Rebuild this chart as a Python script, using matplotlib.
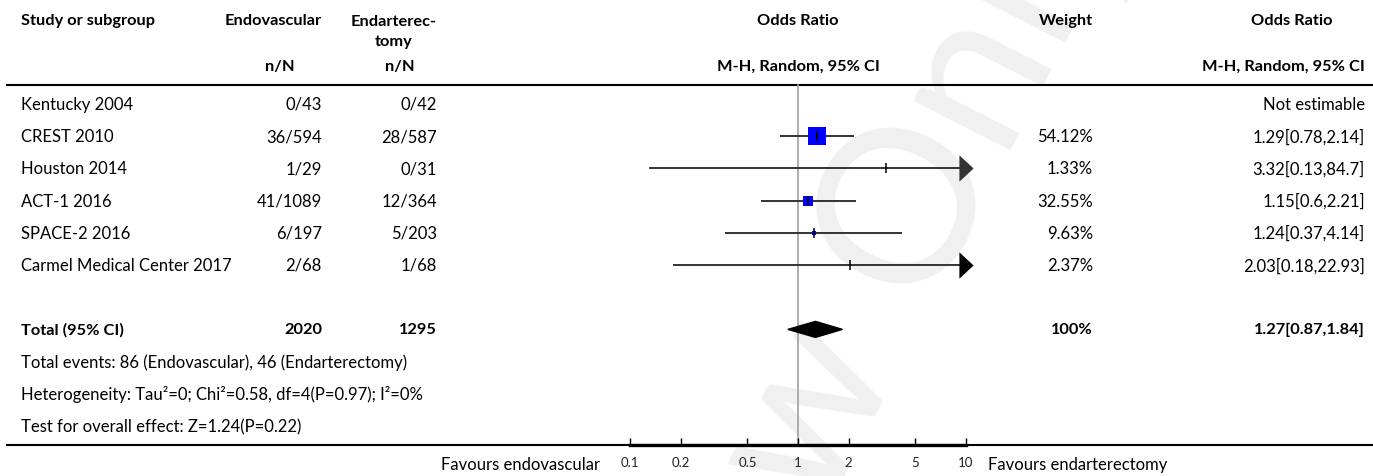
import numpy as np
import matplotlib
matplotlib.use("Agg")
from matplotlib import pyplot as plt

plt.rcParams['font.family'] = ['Lato', 'DejaVu Sans']

# data
studies = ["Kentucky 2004", "CREST 2010", "Houston 2014", "ACT-1 2016",
           "SPACE-2 2016", "Carmel Medical Center 2017"]
endo_n = [0, 36, 1, 41, 6, 2]
endo_N = [43, 594, 29, 1089, 197, 68]
endc_n = [0, 28, 0, 12, 5, 1]
endc_N = [42, 587, 31, 364, 203, 68]
weights = [np.nan, 54.12, 1.33, 32.55, 9.63, 2.37]
or_est = [np.nan, 1.29, 3.32, 1.15, 1.24, 2.03]
ci_lo = [np.nan, 0.78, 0.13, 0.6, 0.37, 0.18]
ci_hi = [np.nan, 2.14, 84.7, 2.21, 4.14, 22.93]

total_endo = 2020
total_endc = 1295
total_weight = 100
total_or = 1.27
total_lo = 0.87
total_hi = 1.84
events_endo = 86
events_endc = 46

footnotes = ["Total events: %d (Endovascular), %d (Endarterectomy)" % (events_endo, events_endc),
             "Heterogeneity: Tau\u00b2=0; Chi\u00b2=0.58, df=4(P=0.97); I\u00b2=0%",
             "Test for overall effect: Z=1.24(P=0.22)"]
axis_ticks = [0.1, 0.2, 0.5, 1, 2, 5, 10]

W, H = 1373, 477
fig = plt.figure(figsize=(W / 100, H / 100), dpi=100)
ax = fig.add_axes([0, 0, 1, 1])
ax.set_xlim(0, W)
ax.set_ylim(H, 0)
ax.axis("off")

# watermark
ax.text(805, 420, "Review Only", rotation=63, rotation_mode="anchor", fontsize=155,
        color="#f0f0f0", ha="center", va="center", zorder=0)

bold = dict(fontsize=11.8, fontweight="bold", va="center")
norm = dict(fontsize=12, va="center")

x_study, x_endo, x_endc = 21, 322, 437
x_w, x_or = 1093, 1365
y0, step = 105, 32.2
rows = [y0 + step * i for i in range(len(studies))]
y_total = y0 + step * 7

# header
ax.text(x_study, 21, "Study or subgroup", ha="left", **bold)
ax.text(x_endo, 21, "Endovascular", ha="right", **bold)
ax.text(x_endc, 32, "Endarterec-\ntomy", ha="right", multialignment="center",
        linespacing=1.55, **bold)
ax.text(798, 21, "Odds Ratio", ha="center", **bold)
ax.text(x_w, 21, "Weight", ha="right", **bold)
ax.text(1292, 21, "Odds Ratio", ha="center", **bold)
ax.text(280, 67, "n/N", ha="center", **bold)
ax.text(400, 67, "n/N", ha="center", **bold)
ax.text(798, 67, "M-H, Random, 95% CI", ha="center", **bold)
ax.text(x_or, 67, "M-H, Random, 95% CI", ha="right", **bold)
ax.plot([7, W], [86, 86], color="black", lw=1.5)
ax.plot([7, W], [446, 446], color="black", lw=1.5)

for i, y in enumerate(rows):
    ax.text(x_study, y, studies[i], ha="left", **norm)
    ax.text(x_endo, y, "%d/%d" % (endo_n[i], endo_N[i]), ha="right", **norm)
    ax.text(x_endc, y, "%d/%d" % (endc_n[i], endc_N[i]), ha="right", **norm)
    if np.isnan(or_est[i]):
        ax.text(x_or, y, "Not estimable", ha="right", **norm)
    else:
        ax.text(x_w, y, "%g%%" % weights[i], ha="right", **norm)
        ax.text(x_or, y, "%g[%g,%g]" % (or_est[i], ci_lo[i], ci_hi[i]), ha="right", **norm)

ax.text(x_study, y_total, "Total (95% CI)", ha="left", **bold)
ax.text(x_endo, y_total, str(total_endo), ha="right", **bold)
ax.text(x_endc, y_total, str(total_endc), ha="right", **bold)
ax.text(x_w, y_total, "%g%%" % total_weight, ha="right", **bold)
ax.text(x_or, y_total, "%g[%g,%g]" % (total_or, total_lo, total_hi), ha="right", **bold)
for k, t in enumerate(footnotes):
    ax.text(x_study, y0 + step * (8 + k), t, ha="left", **norm)

ax.text(600, 465, "Favours endovascular", ha="right", **norm)
ax.text(988, 465, "Favours endarterectomy", ha="left", **norm)

# forest panel: log x axis, pixel y
fx0, fx1 = 630, 966
fax = fig.add_axes([fx0 / W, (H - 446) / H, (fx1 - fx0) / W, 446 / H])
fax.patch.set_alpha(0)
fax.set_xscale("log")
fax.set_xlim(0.1, 10)
fax.set_ylim(446, 0)
for s in ["top", "left", "right"]:
    fax.spines[s].set_visible(False)
fax.spines["bottom"].set_linewidth(2.4)
fax.set_yticks([])
fax.set_xticks(axis_ticks)
fax.set_xticklabels(["%g" % t for t in axis_ticks])
fax.minorticks_off()
fax.tick_params(axis="x", direction="in", length=5, width=1, pad=8,
                labelsize=9.5, labelcolor="#222222")

fax.plot([1, 1], [86, 446], color="#a0a0a0", lw=1.2, zorder=1)

arrow_col = ["#1a1a1a", "#1a1a1a", "#333333", "#1a1a1a", "#1a1a1a", "black"]
for i, y in enumerate(rows):
    if np.isnan(or_est[i]):
        continue
    hi = min(ci_hi[i], 10)
    fax.plot([ci_lo[i], hi], [y, y], color="#333333", lw=1.4, zorder=2,
             solid_capstyle="butt", clip_on=False)
    side = 18 * weights[i] / 54.12
    fax.plot(or_est[i], y, marker="s", ms=side * 0.72, mew=0, color="#0000ff", zorder=3)
    fax.plot(or_est[i], y, marker="|", ms=6.5, mew=1.1, color="black", zorder=4)
    if ci_hi[i] > 10:
        fax.plot(10, y, marker=[(-7, -13), (7, 0), (-7, 13)], ms=19, mew=0,
                 color=arrow_col[i], zorder=4, clip_on=False)

fax.fill([total_lo, total_or, total_hi, total_or],
         [y_total, y_total - 8, y_total, y_total + 8], color="black", zorder=3)

fig.savefig("out.png", dpi=100)
